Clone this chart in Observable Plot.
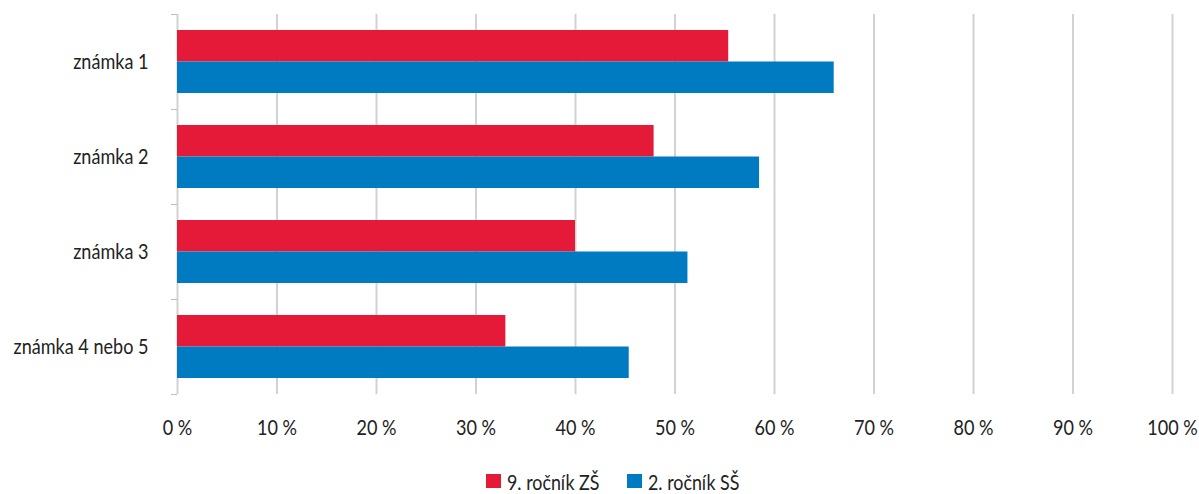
<!DOCTYPE html>
<html>
<head>
<meta charset="utf-8">
<script src="https://cdn.jsdelivr.net/npm/d3@7"></script>
<script src="https://cdn.jsdelivr.net/npm/@observablehq/plot@0.6"></script>
<style>
  body { margin: 0; background: #fff; font-family: Lato, sans-serif; color: #222; }
  #legend { display: flex; align-items: center; height: 26px; padding-left: 486px; font-size: 21px; }
  .item { display: flex; align-items: center; margin-right: 27px; }
  .sw { width: 15px; height: 14px; margin-right: 6px; }
  .lab { display: inline-block; transform: scaleX(0.85); transform-origin: left center; white-space: nowrap; }
</style>
</head>
<body>
<div id="chart"></div>
<div id="legend"></div>
<script>
const categories = ["známka 1", "známka 2", "známka 3", "známka 4 nebo 5"];
const seriesNames = ["9. ročník ZŠ", "2. ročník SŠ"];
const valuesZS = [55.4, 47.9, 40.0, 33.0];
const valuesSS = [66.0, 58.5, 51.3, 45.4];
const xTicks = [0, 10, 20, 30, 40, 50, 60, 70, 80, 90, 100];
const colors = ["#e41a38", "#007bc1"];

const dataZS = categories.map((c, i) => ({cat: c, v: valuesZS[i]}));
const dataSS = categories.map((c, i) => ({cat: c, v: valuesSS[i]}));

const step = (468 - 14 - 74) / categories.length;

const chart = Plot.plot({
  width: 1199,
  height: 468,
  marginLeft: 177,
  marginRight: 27,
  marginTop: 14,
  marginBottom: 74,
  style: {fontFamily: "Lato, sans-serif", fontSize: "21px", color: "#222", background: "#fff"},
  x: {domain: [0, 100], label: null},
  y: {domain: categories, padding: 0, label: null},
  marks: [
    Plot.gridX(xTicks, {stroke: "#d2d2d2", strokeWidth: 2, strokeOpacity: 1}),
    Plot.axisY(categories, {text: null, tickSize: 6, dy: -step / 2, stroke: "#bfbfbf", label: null}),
    Plot.axisY([categories[categories.length - 1]], {text: null, tickSize: 6, dy: step / 2, stroke: "#bfbfbf", label: null}),
    Plot.barX(dataZS, {y: "cat", x: "v", fill: colors[0], insetTop: 16, insetBottom: step - 47.5}),
    Plot.barX(dataSS, {y: "cat", x: "v", fill: colors[1], insetTop: 47.5, insetBottom: 16}),
    Plot.axisX(xTicks, {tickSize: 0, tickPadding: 26, tickFormat: d => d + " %", fontSize: 21, fill: "#222", label: null}),
    Plot.axisY({tickSize: 0, tickPadding: 29, fontSize: 21, fill: "#222", label: null})
  ]
});
// condense the axis text horizontally to mimic the reference's condensed typeface
chart.querySelectorAll("text").forEach(t => {
  const tr = t.getAttribute("transform") || "";
  t.setAttribute("transform", tr + " scale(0.86,1)");
});
document.getElementById("chart").appendChild(chart);

const legend = document.getElementById("legend");
seriesNames.forEach((name, i) => {
  const item = document.createElement("div");
  item.className = "item";
  const sw = document.createElement("div");
  sw.className = "sw";
  sw.style.background = colors[i];
  const label = document.createElement("span");
  label.className = "lab";
  label.textContent = name;
  item.appendChild(sw);
  item.appendChild(label);
  legend.appendChild(item);
  const w = label.getBoundingClientRect().width / 0.85;
  label.style.marginRight = (-(1 - 0.85) * w) + "px";
});
</script>
</body>
</html>
